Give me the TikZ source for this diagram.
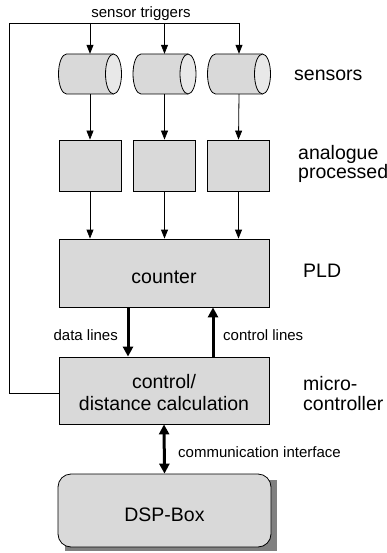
\documentclass[tikz,border=0pt]{standalone}
\usepackage{fontspec}
\setmainfont{Liberation Sans}
\usetikzlibrary{arrows.meta}
\definecolor{boxgray}{HTML}{D9D9D9}
\definecolor{endgray}{HTML}{E8E8E8}
\definecolor{shadowgray}{HTML}{808080}
\tikzset{
  x=1pt, y=-1pt,
  thin line/.style={line width=0.8pt},
  box/.style={draw, fill=boxgray, thin line, inner sep=0pt},
  arr/.style={thin line, -{Triangle[length=9pt,width=7pt]}},
  fatarr/.style={line width=3pt, -{Triangle[length=10pt,width=10pt]}},
  fatboth/.style={line width=3pt, {Triangle[length=10pt,width=10pt]}-{Triangle[length=10pt,width=10pt]}},
  biglabel/.style={font=\fontsize{19.5}{22}\selectfont, inner sep=0pt},
  smalllabel/.style={font=\fontsize{15}{18}\selectfont, inner sep=0pt},
}
\begin{document}
\begin{tikzpicture}
\useasboundingbox (0,0) rectangle (387,553);

% sensors: horizontal cylinders with the front face on the right
\foreach \cx/\n in {90/1, 164.5/2, 239/3}{
  \fill[boxgray] (\cx-23.5,54) -- (\cx+23.5,54) -- (\cx+23.5,94) -- (\cx-23.5,94)
    arc[start angle=270, end angle=90, x radius=8pt, y radius=20pt] -- cycle;
  \draw[thin line] (\cx+23.5,54) -- (\cx-23.5,54)
    arc[start angle=90, end angle=270, x radius=8pt, y radius=20pt] -- (\cx+23.5,94);
  \draw[thin line, fill=endgray] (\cx+23.5,74) ellipse[x radius=8pt, y radius=20pt];
  \node[minimum width=63pt, minimum height=40pt, inner sep=0pt] (c\n) at (\cx,74) {};
}

% analogue processing stages
\node[box, minimum width=62pt, minimum height=51pt] (b1) at (90,165.5) {};
\node[box, minimum width=62pt, minimum height=51pt] (b2) at (164.5,165.5) {};
\node[box, minimum width=62pt, minimum height=51pt] (b3) at (238.5,165.5) {};

% PLD counter
\node[box, minimum width=210pt, minimum height=68pt] (cnt) at (164,273) {};
\node[biglabel, anchor=base] (cntlbl) at (164,283) {counter};

% micro-controller
\node[box, minimum width=210pt, minimum height=67pt] (ctrl) at (164,390.5) {};
\node[biglabel, anchor=base] (ctrlA) at (164,388) {control/};
\node[biglabel, anchor=base] (ctrlB) at (164,410) {distance calculation};

% DSP box with shadow
\fill[shadowgray] (65,480) rectangle (277,551);
\node[box, rounded corners=13pt, minimum width=213pt, minimum height=73pt] (dsp) at (164.5,510.5) {};
\node[biglabel, anchor=base] (dsplbl) at (164.5,521) {DSP-Box};

% trigger feedback loop
\coordinate (fb1) at (9,393);
\coordinate (fb2) at (9,23);
\coordinate (fb3) at (239,23);
\draw[thin line] ([yshift=-2.5pt]ctrl.west) -- (fb1) -- (fb2) -- (fb3);
\foreach \n in {1,2,3}{
  \draw[arr] (c\n.north |- fb2) -- (c\n.north);
  \draw[arr] (c\n.south) -- (b\n.north);
  \draw[arr] (b\n.south) -- (b\n.south |- cnt.north);
}

% data and control buses
\coordinate (dl) at (128,0);
\coordinate (cl) at (213,0);
\draw[fatarr] (dl |- cnt.south) -- (dl |- ctrl.north);
\draw[fatarr] (cl |- ctrl.north) -- (cl |- cnt.south);
\draw[fatboth] (ctrl.south) -- (dsp.north);

% labels
\node[smalllabel, anchor=base] (trig) at (141,18) {sensor triggers};
\node[smalllabel, anchor=base east] (dlbl) at (118,340) {data lines};
\node[smalllabel, anchor=base west] (clbl) at (223,340) {control lines};
\node[smalllabel, anchor=base west] (comm) at (178,457) {communication interface};

\node[biglabel, anchor=base west] (sens) at (294,81) {sensors};
\node[biglabel, anchor=base west] (ana1) at (298,160) {analogue};
\node[biglabel, anchor=base west] (ana2) at (298,178.5) {processed};
\node[biglabel, anchor=base west] (pld) at (303,277) {PLD};
\node[biglabel, anchor=base west] (mc1) at (303,390) {micro-};
\node[biglabel, anchor=base west] (mc2) at (303,410) {controller};
\end{tikzpicture}
\end{document}
